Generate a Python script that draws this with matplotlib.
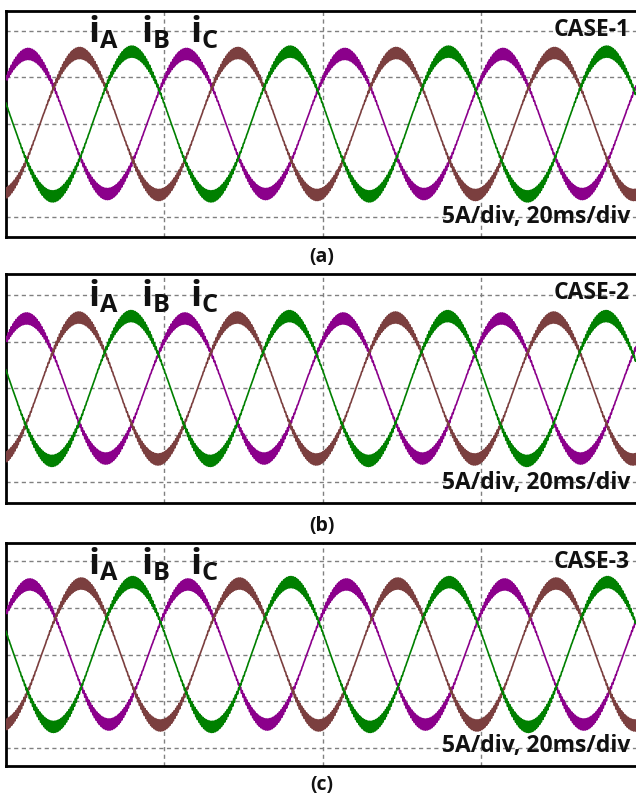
import matplotlib.pyplot as plt
import numpy as np

plt.rcParams['font.family'] = ['Open Sans', 'DejaVu Sans']
plt.rcParams['mathtext.fontset'] = 'custom'
plt.rcParams['mathtext.bf'] = 'Open Sans:bold'
plt.rcParams['mathtext.rm'] = 'Open Sans'

W, H = 636, 798

# (1 div = 5 A vertical, 20 ms horizontal)
cases = ["CASE-1", "CASE-2", "CASE-3"]
captions = ["(a)", "(b)", "(c)"]
phase_names = ["A", "B", "C"]
phase_colors = ["#8b008b", "#7b3f3f", "#008000"]
freq_hz = 50.0
amp_div = [[1.50, 1.52, 1.55], [1.50, 1.52, 1.55], [1.50, 1.52, 1.55]]   # peak, in divs
peak_ms = [[2.8, 9.3, 15.9], [2.6, 9.2, 15.8], [3.0, 9.5, 16.0]]          # time of first peak
ripple_div = [0.12, 0.12, 0.12]    # switching ripple band (half height)
ripple_khz = 4.9
scale_text = "5A/div, 20ms/div"

# panel boxes in pixels: (top, bottom)
boxes = [(11, 237), (274, 503), (543, 766)]
caption_y = [257, 526, 785]
left_px = 6
div_px = 158.3

t = np.linspace(0, 80, 16000)  # ms

fig = plt.figure(figsize=(W / 100, H / 100), dpi=100)

for k in range(3):
    top, bot = boxes[k]
    ax = fig.add_axes([left_px / W, 1 - bot / H, (W - left_px) / W, (bot - top) / H])
    x_max = (W - left_px) / div_px
    y_half = (bot - top) / 2 / 46.7
    ax.set_xlim(0, x_max)
    ax.set_ylim(-y_half, y_half)
    ax.set_xticks([])
    ax.set_yticks([])

    for g in [-2, -1, 0, 1, 2]:
        ax.axhline(g, color="#808080", lw=1.0, ls=(0, (3, 2.5)), zorder=1)
    for g in [1, 2, 3]:
        ax.axvline(g, color="#808080", lw=1.0, ls=(0, (3, 2.5)), zorder=1)

    x = t / 20.0
    for p in range(3):
        wave = amp_div[k][p] * np.cos(2 * np.pi * freq_hz * (t - peak_ms[k][p]) / 1000)
        ripple = ripple_div[k] * np.sin(2 * np.pi * ripple_khz * t + p) * \
            np.abs(np.cos(2 * np.pi * freq_hz * (t - peak_ms[k][p]) / 1000)) ** 1.5
        ax.plot(x, wave + ripple, color=phase_colors[p], lw=1.2, zorder=3 + p)

    for s in ["top", "bottom", "left"]:
        ax.spines[s].set_linewidth(2.0)
        ax.spines[s].set_color("black")
    ax.spines["right"].set_visible(False)

    # phase labels
    for p, xp in enumerate([103, 155, 204]):
        fig.text(xp / W, 1 - (top + 22) / H, r"$\mathbf{i}_{\mathbf{%s}}$" % phase_names[p],
                 fontsize=26, ha="center", va="center", color="#111111")

    fig.text(630 / W, 1 - (top + 19) / H, cases[k], fontsize=16.5, fontweight="bold",
             ha="right", va="center", color="#111111")
    fig.text(630 / W, 1 - (bot - 20) / H, scale_text, fontsize=16.5, fontweight="bold",
             ha="right", va="center", color="#111111")
    fig.text(322 / W, 1 - caption_y[k] / H, captions[k], fontsize=14, fontweight="bold",
             ha="center", va="center", color="#111111")

plt.savefig("out.png", dpi=100)
